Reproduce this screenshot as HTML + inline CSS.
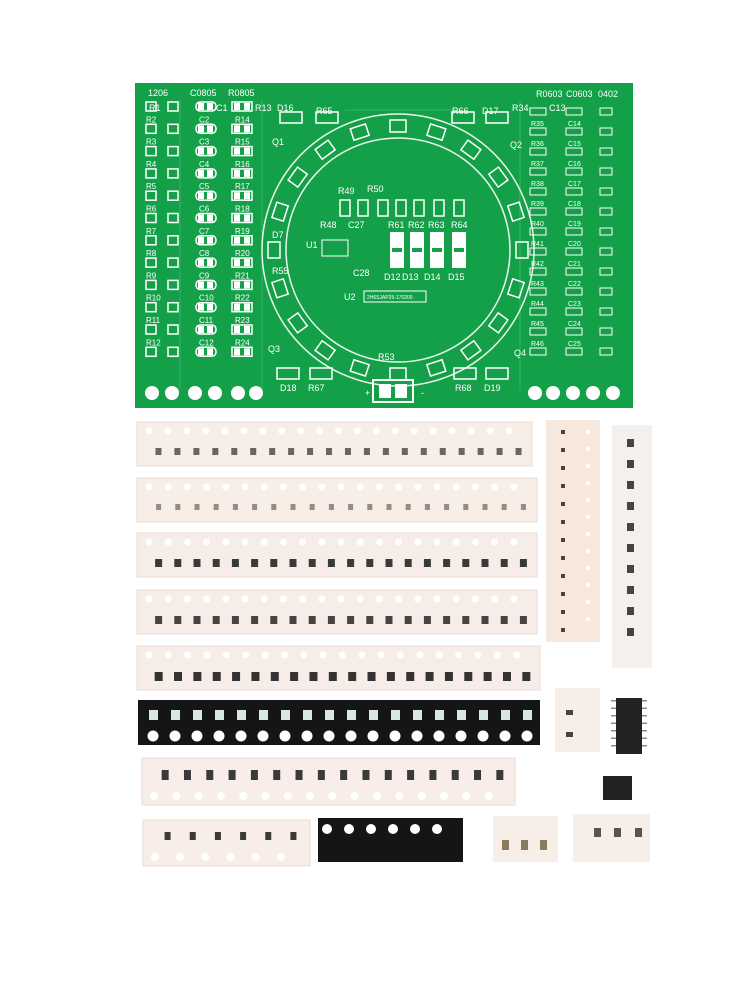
<!DOCTYPE html>
<html><head><meta charset="utf-8"><style>
html,body{margin:0;padding:0;background:#fff;}
svg{display:block;font-family:"Liberation Sans",sans-serif;}
</style></head><body>
<svg id="s" width="750" height="1000" viewBox="0 0 750 1000">
<rect width="750" height="1000" fill="#fff"/>
<!-- PCB -->
<rect x="135" y="83" width="498" height="325" fill="#14a048"/>
<g fill="none" stroke="#2fb862" stroke-width="1">
<path d="M345 110 H460 M180 100 V390 M262 100 V390 M520 100 V390"/>
</g>
<circle cx="398" cy="250" r="136" fill="none" stroke="#e8f5ea" stroke-width="1.5"/>
<circle cx="398" cy="250" r="112" fill="none" stroke="#e8f5ea" stroke-width="1.5"/>
<g fill="#fff" font-size="9">
<text x="148" y="96">1206</text><text x="190" y="96">C0805</text><text x="228" y="96">R0805</text>
<text x="149" y="111">R1</text><text x="216" y="111">C1</text><text x="255" y="111">R13</text>
<text x="277" y="111">D16</text><text x="316" y="114">R65</text><text x="452" y="114">R66</text><text x="482" y="114">D17</text>
<text x="512" y="111">R34</text><text x="536" y="97">R0603</text><text x="566" y="97">C0603</text><text x="598" y="97">0402</text>
<text x="549" y="111">C13</text>
<text x="272" y="145">Q1</text><text x="510" y="148">Q2</text><text x="268" y="352">Q3</text><text x="514" y="356">Q4</text>
<text x="338" y="194">R49</text><text x="367" y="192">R50</text><text x="320" y="228">R48</text><text x="348" y="228">C27</text>
<text x="388" y="228">R61</text><text x="408" y="228">R62</text><text x="428" y="228">R63</text><text x="451" y="228">R64</text>
<text x="306" y="248">U1</text><text x="353" y="276">C28</text><text x="344" y="300">U2</text>
<text x="384" y="280">D12</text><text x="402" y="280">D13</text><text x="424" y="280">D14</text><text x="448" y="280">D15</text>
<text x="272" y="238">D7</text><text x="272" y="274">R55</text><text x="378" y="360">R53</text>
<text x="280" y="391">D18</text><text x="308" y="391">R67</text><text x="455" y="391">R68</text><text x="484" y="391">D19</text>
<text x="365" y="396">+</text><text x="421" y="396">-</text>
</g>
<g fill="#fff" font-size="8" id="lbl"></g>
<rect x="373" y="380" width="40" height="22" fill="none" stroke="#fff" stroke-width="2"/>
<rect x="379" y="384" width="12" height="14" fill="#fff"/><rect x="395" y="384" width="12" height="14" fill="#fff"/>
<rect x="364" y="291" width="62" height="11" fill="none" stroke="#fff"/>
<text x="367" y="299" font-size="5" fill="#fff">2H6SJAP25-170200</text>
<rect x="322" y="240" width="26" height="16" fill="none" stroke="#fff"/>
<g id="pcb"></g>
<g id="tapes"></g>
</svg>
<script>
var NS="http://www.w3.org/2000/svg";
function el(p,t,a){var e=document.createElementNS(NS,t);for(var k in a)e.setAttribute(k,a[k]);p.appendChild(e);return e;}
var pcb=document.getElementById('pcb'),T=document.getElementById('tapes'),L=document.getElementById('lbl');
for(var i=0;i<12;i++){var y=102+i*22.3;
 el(pcb,'rect',{x:146,y:y,width:10,height:9,fill:'none',stroke:'#fff','stroke-width':1.5});
 el(pcb,'rect',{x:168,y:y,width:10,height:9,fill:'none',stroke:'#fff','stroke-width':1.5});
 el(pcb,'rect',{x:196,y:y,width:20,height:9,rx:4,fill:'none',stroke:'#fff','stroke-width':1.5});
 el(pcb,'rect',{x:198,y:y+1,width:6,height:7,fill:'#fff'});el(pcb,'rect',{x:207,y:y+1,width:6,height:7,fill:'#fff'});
 el(pcb,'rect',{x:232,y:y,width:20,height:9,fill:'none',stroke:'#fff','stroke-width':1.5});
 el(pcb,'rect',{x:234,y:y+1,width:6,height:7,fill:'#fff'});el(pcb,'rect',{x:244,y:y+1,width:6,height:7,fill:'#fff'});
 if(i>0){var t=el(L,'text',{x:146,y:y-2});t.textContent='R'+(i+1);
 t=el(L,'text',{x:199,y:y-2});t.textContent='C'+(i+1);
 t=el(L,'text',{x:235,y:y-2});t.textContent='R'+(i+13);}
}
for(var i=0;i<13;i++){var y=104+i*20;
 el(pcb,'rect',{x:530,y:y+4,width:16,height:7,fill:'none',stroke:'#fff'});
 el(pcb,'rect',{x:566,y:y+4,width:16,height:7,fill:'none',stroke:'#fff'});
 el(pcb,'rect',{x:600,y:y+4,width:12,height:7,fill:'none',stroke:'#fff'});
 if(i>0){var t=el(L,'text',{x:531,y:y+2,'font-size':7});t.textContent='R'+(i+34);
 t=el(L,'text',{x:568,y:y+2,'font-size':7});t.textContent='C'+(i+13);}
}
for(var i=0;i<20;i++){var a=i/20*2*Math.PI,r=124,cx=398+r*Math.cos(a),cy=250+r*Math.sin(a);
 el(pcb,'rect',{x:cx-8,y:cy-6,width:16,height:12,fill:'none',stroke:'#fff','stroke-width':1.5,transform:'rotate('+(a*180/Math.PI+90)+' '+cx+' '+cy+')'});}
[340,358,378,396,414,434,454].forEach(function(x){el(pcb,'rect',{x:x,y:200,width:10,height:16,fill:'none',stroke:'#fff','stroke-width':1.5});});
[390,410,430,452].forEach(function(x){el(pcb,'rect',{x:x,y:232,width:14,height:36,fill:'#fff'});el(pcb,'rect',{x:x+2,y:248,width:10,height:4,fill:'#14a048'});});
[152,172,195,215,238,256,535,553,573,593,613].forEach(function(x){el(pcb,'circle',{cx:x,cy:393,r:7,fill:'#fff'});});
[[277,368],[454,368],[310,368],[486,368],[280,112],[316,112],[452,112],[486,112]].forEach(function(p){el(pcb,'rect',{x:p[0],y:p[1],width:22,height:11,fill:'none',stroke:'#fff','stroke-width':1.5});});
function tape(x,y,w,h,n,col,comp,holesTop,cw,ch){
 el(T,'rect',{x:x,y:y,width:w,height:h,fill:col,stroke:'#eadbd0'});
 var step=(w-16)/n;
 for(var i=0;i<n;i++){var cx=x+12+i*step;
  el(T,'circle',{cx:cx,cy:holesTop?y+9:y+h-9,r:holesTop?3.5:4,fill:'#fff'});
  el(T,'rect',{x:cx+step/2-cw/2,y:holesTop?y+h-18:y+12,width:cw,height:ch,fill:comp});}
}
tape(137,422,395,44,20,'#f8eee8','#666',true,6,7);
tape(137,478,400,44,20,'#f8eee8','#9a8a80',true,5,6);
tape(137,533,400,44,20,'#f6ede8','#3a3a3a',true,7,8);
tape(137,590,400,44,20,'#f6ede8','#444',true,7,8);
tape(137,646,403,44,20,'#f6ede8','#333',true,8,9);
el(T,'rect',{x:138,y:700,width:402,height:45,fill:'#151515'});
for(var i=0;i<18;i++){var cx=153+i*22;el(T,'circle',{cx:cx,cy:736,r:5.5,fill:'#fff'});el(T,'rect',{x:cx-4,y:710,width:9,height:10,fill:'#d8e8e0'});}
tape(142,758,373,47,16,'#f8ede8','#3a3a3a',false,7,10);
tape(143,820,167,46,6,'#f8ede8','#3a3a3a',false,6,8);
el(T,'rect',{x:318,y:818,width:145,height:44,fill:'#151515'});
for(var i=0;i<6;i++){el(T,'circle',{cx:327+i*22,cy:829,r:5,fill:'#fff'});}
el(T,'rect',{x:493,y:816,width:65,height:46,fill:'#f8eee8'});
[505,524,543].forEach(function(x){el(T,'rect',{x:x-3,y:840,width:7,height:10,fill:'#8a7a60'});});
el(T,'rect',{x:573,y:814,width:77,height:48,fill:'#f8eee8'});
[597,617,638].forEach(function(x){el(T,'rect',{x:x-3,y:828,width:7,height:9,fill:'#555'});});
el(T,'rect',{x:546,y:420,width:54,height:222,fill:'#f6e8dc'});
for(var i=0;i<12;i++){el(T,'circle',{cx:588,cy:432+i*17,r:2,fill:'#fff'});el(T,'rect',{x:561,y:430+i*18,width:4,height:4,fill:'#444'});}
el(T,'rect',{x:612,y:425,width:40,height:243,fill:'#f3f0ee'});
for(var i=0;i<10;i++){el(T,'rect',{x:627,y:439+i*21,width:7,height:8,fill:'#444'});}
el(T,'rect',{x:555,y:688,width:45,height:64,fill:'#f8eee8'});
el(T,'rect',{x:566,y:710,width:7,height:5,fill:'#444'});el(T,'rect',{x:566,y:732,width:7,height:5,fill:'#444'});
el(T,'rect',{x:616,y:698,width:26,height:56,fill:'#222'});
for(var i=0;i<7;i++){el(T,'rect',{x:611,y:700+i*7.5,width:5,height:1.5,fill:'#888'});el(T,'rect',{x:642,y:700+i*7.5,width:5,height:1.5,fill:'#888'});}
el(T,'rect',{x:603,y:776,width:29,height:24,fill:'#222'});
</script>
</body></html>
